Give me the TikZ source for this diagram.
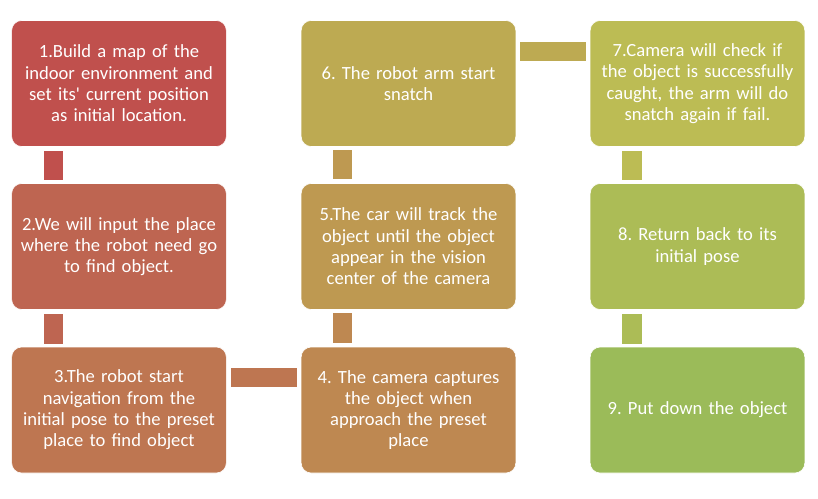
\documentclass[tikz,border=0pt]{standalone}
\usepackage{fontspec}
\setmainfont{Carlito}
\usepackage{tikz}
\definecolor{stepA}{RGB}{192,80,77}
\definecolor{stepB}{RGB}{190,101,81}
\definecolor{stepC}{RGB}{190,118,81}
\definecolor{stepD}{RGB}{190,136,81}
\definecolor{stepE}{RGB}{190,153,81}
\definecolor{stepF}{RGB}{189,170,82}
\definecolor{stepG}{RGB}{188,188,84}
\definecolor{stepH}{RGB}{172,188,86}
\definecolor{stepI}{RGB}{155,187,89}
\tikzset{box/.style={rounded corners=10pt, draw=white, line width=0.6pt,
    minimum width=213pt, minimum height=126pt, text width=208pt, align=center,
    text=white, font=\frenchspacing\fontsize{18.6}{21.3}\selectfont}}

\begin{document}
\begin{tikzpicture}[x=1pt, y=-1pt]
    \useasboundingbox (0,0) rectangle (818,498);
    \node [box, fill=stepA] (b1) at (119,83.5) {1.Build a map of the\\indoor environment and\\set its\textquotesingle{} current position\\as initial location.};
    \node [box, fill=stepB] (b2) at (119,246.5) {2.We will input the place\\where the robot need go\\to find object.};
    \node [box, fill=stepC] (b3) at (119,410) {3.The robot start\\navigation from the\\initial pose to the preset\\place to find object};
    \node [box, fill=stepD] (b4) at (408.5,410) {4. The camera captures\\the object when\\approach the preset\\place};
    \node [box, fill=stepE] (b5) at (408.5,246.5) {5.The car will track the\\object until the object\\appear in the vision\\center of the camera};
    \node [box, fill=stepF] (b6) at (408.5,83.5) {6. The robot arm start\\snatch};
    \node [box, fill=stepG] (b7) at (697.5,83.5) {7.Camera will check if\\the object is successfully\\caught, the arm will do\\snatch again if fail.};
    \node [box, fill=stepH] (b8) at (697.5,246.5) {8. Return back to its\\initial pose};
    \node [box, fill=stepI] (b9) at (697.5,410) {9. Put down the object};
    \fill [stepA] ([xshift=33pt,yshift=-4pt]b1.south west) rectangle ([xshift=52pt,yshift=3pt]b2.north west);
    \fill [stepB] ([xshift=33pt,yshift=-4pt]b2.south west) rectangle ([xshift=52pt,yshift=3pt]b3.north west);
    \fill [stepC] ([xshift=4pt,yshift=-21pt]b3.north east) rectangle ([xshift=-4pt,yshift=-40pt]b4.north west);
    \fill [stepD] ([xshift=32pt,yshift=4pt]b4.north west) rectangle ([xshift=51pt,yshift=-3pt]b5.south west);
    \fill [stepE] ([xshift=32pt,yshift=4pt]b5.north west) rectangle ([xshift=51pt,yshift=-3pt]b6.south west);
    \fill [stepF] ([xshift=4pt,yshift=-22pt]b6.north east) rectangle ([xshift=-4pt,yshift=-41pt]b7.north west);
    \fill [stepG] ([xshift=32pt,yshift=-4pt]b7.south west) rectangle ([xshift=52pt,yshift=3pt]b8.north west);
    \fill [stepH] ([xshift=32pt,yshift=-4pt]b8.south west) rectangle ([xshift=52pt,yshift=3pt]b9.north west);
\end{tikzpicture}
\end{document}
